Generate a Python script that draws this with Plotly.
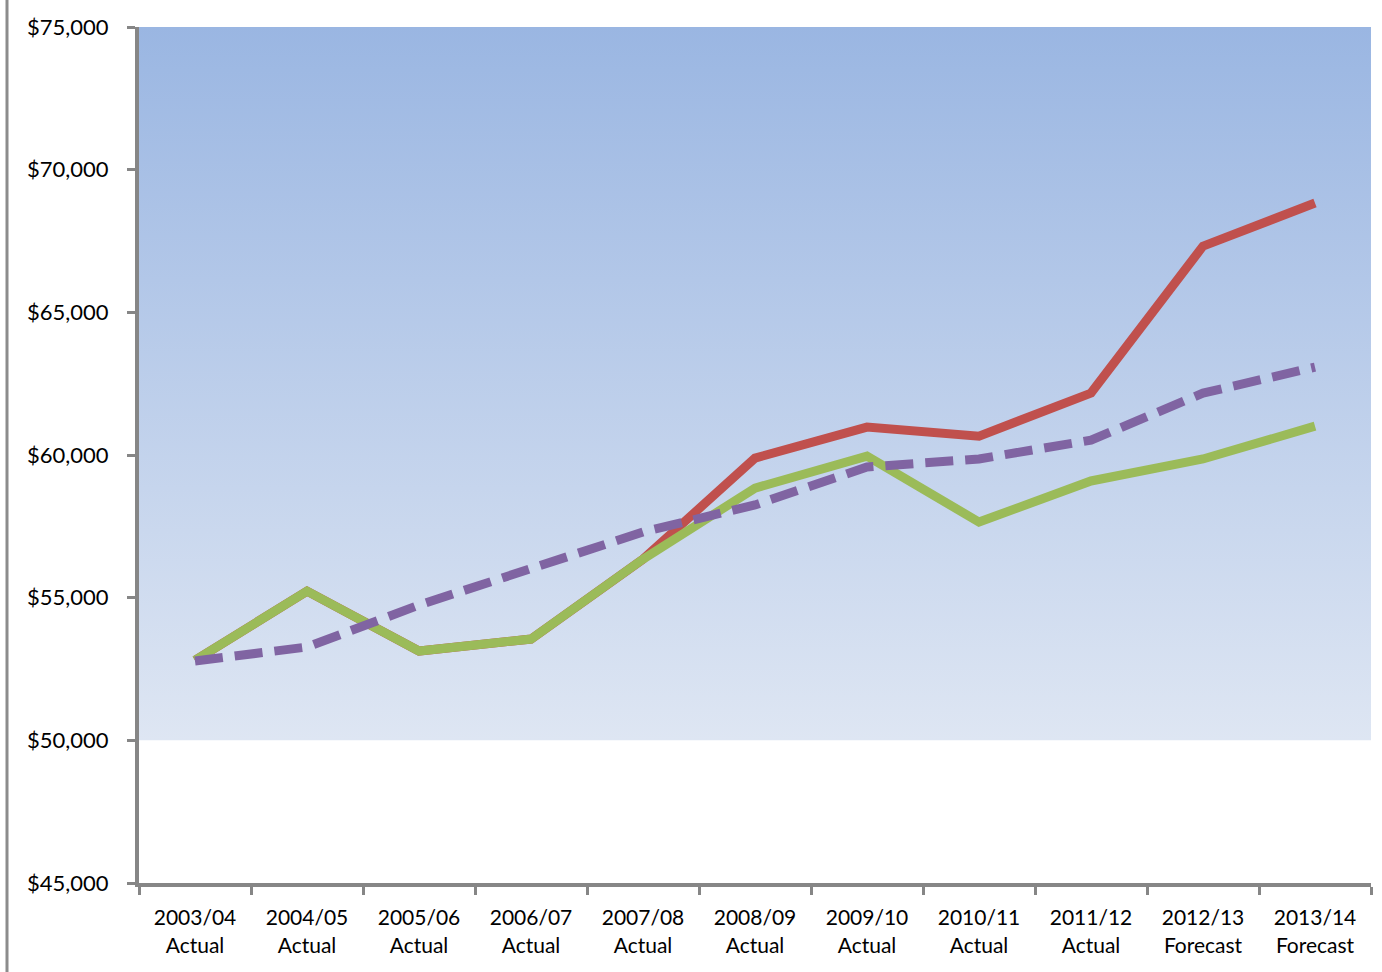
import plotly.graph_objects as go

categories = ["2003/04<br>Actual", "2004/05<br>Actual", "2005/06<br>Actual", "2006/07<br>Actual",
              "2007/08<br>Actual", "2008/09<br>Actual", "2009/10<br>Actual", "2010/11<br>Actual",
              "2011/12<br>Actual", "2012/13<br>Forecast", "2013/14<br>Forecast"]

red_values = [52800, 55230, 53130, 53550, 56350, 59890, 60980, 60660, 62170, 67320, 68830]
green_values = [52800, 55230, 53130, 53550, 56350, 58840, 59960, 57650, 59090, 59860, 61010]
purple_values = [52780, 53270, 54740, 56040, 57300, 58250, 59580, 59860, 60520, 62170, 63080]

y_ticks = [45000, 50000, 55000, 60000, 65000, 70000, 75000]
y_tick_text = ["${:,}".format(v) for v in y_ticks]

fig = go.Figure()

# gradient background band (50,000 to 75,000) on the hidden base linear x axis
fig.add_trace(go.Scatter(
    x=[0, 1, 1, 0, 0],
    y=[y_ticks[1], y_ticks[1], y_ticks[-1], y_ticks[-1], y_ticks[1]],
    xaxis="x", yaxis="y",
    mode="none", fill="toself",
    fillgradient=dict(type="vertical",
                      colorscale=[[0, "#DEE6F3"], [1, "#9AB6E2"]]),
    hoverinfo="skip", showlegend=False,
))

fig.add_trace(go.Scatter(x=categories, y=red_values, mode="lines", xaxis="x2",
                         line=dict(color="#C0504D", width=9), showlegend=False))
fig.add_trace(go.Scatter(x=categories, y=green_values, mode="lines", xaxis="x2",
                         line=dict(color="#9BBB59", width=9), showlegend=False))
fig.add_trace(go.Scatter(x=categories, y=purple_values, mode="lines", xaxis="x2",
                         line=dict(color="#8064A2", width=9, dash="28px,12px"), showlegend=False))

L, R, T, B = 139, 11, 27, 89
W, H = 1382, 972
pw, ph = W - L - R, H - T - B

fig.add_shape(type="line", xref="paper", yref="paper",
              x0=(7 - L) / pw, x1=(7 - L) / pw,
              y0=-B / ph, y1=1 + T / ph,
              line=dict(color="#8C8C8C", width=3))

fig.update_layout(
    width=W, height=H,
    margin=dict(l=L, r=R, t=T, b=B),
    paper_bgcolor="white", plot_bgcolor="white",
    font=dict(family="Lato, 'Open Sans', sans-serif", size=22, color="#000000"),
    xaxis=dict(
        range=[0, 1], visible=False, showgrid=False, zeroline=False,
    ),
    xaxis2=dict(
        overlaying="x", side="bottom", anchor="y",
        type="category",
        range=[-0.5, len(categories) - 0.5],
        showgrid=False, zeroline=False,
        showline=True, linecolor="#868686", linewidth=4,
        ticks="outside", ticklen=8, tickwidth=3, tickcolor="#868686",
        tickson="boundaries",
        tickfont=dict(size=21),
        ticklabelstandoff=13,
    ),
    yaxis=dict(
        range=[y_ticks[0], y_ticks[-1]],
        tickmode="array", tickvals=y_ticks, ticktext=y_tick_text,
        showgrid=False, zeroline=False,
        showline=True, linecolor="#868686", linewidth=4,
        ticks="outside", ticklen=8, tickwidth=3, tickcolor="#868686",
        tickfont=dict(size=22),
        ticklabelstandoff=14,
    ),
)

fig.write_html("out.html")
